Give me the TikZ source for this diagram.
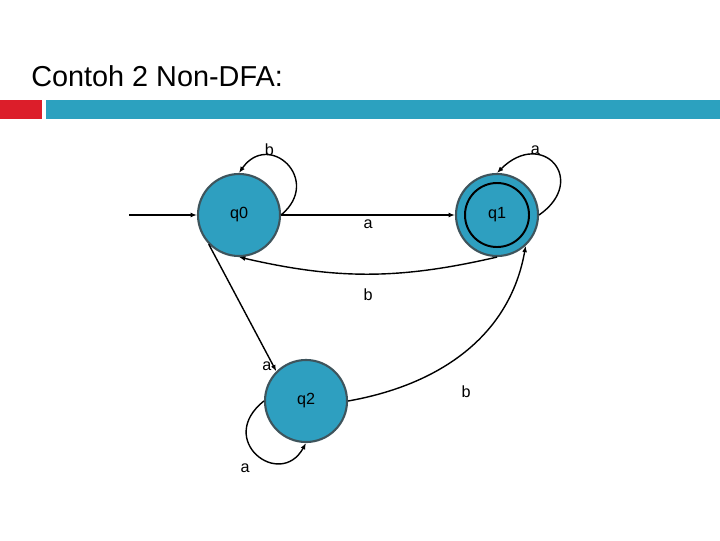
\documentclass[tikz,border=0pt]{standalone}
\usepackage{fontspec}
\setmainfont{Liberation Sans}
\usepackage{xcolor}
\usetikzlibrary{arrows.meta}
\definecolor{barteal}{HTML}{2CA1BF}
\definecolor{barred}{HTML}{DC1E2A}
\definecolor{statefill}{HTML}{2E9FC0}
\definecolor{stateline}{HTML}{3E545C}

\begin{document}
\begin{tikzpicture}[x=0.025cm, y=-0.025cm,
  statenode/.style={
    circle, draw=stateline, line width=1.5pt, fill=statefill,
    minimum size=2.05cm, inner sep=0pt, font=\fontsize{11.5}{13}\selectfont
  },
  accring/.style={draw=black, line width=1.4pt},
  arrow/.style={-{Latex[length=4.5pt, width=3.5pt]}, line width=1pt},
  edgelabel/.style={font=\fontsize{11.5}{13}\selectfont, inner sep=1pt}
]

\fill[white] (0,0) rectangle (720,540);
\useasboundingbox (0,0) rectangle (720,540);

% heading and bar
\node[anchor=base west, inner sep=0pt, font=\fontsize{20.5}{24}\selectfont] (title) at (31,86) {Contoh 2 Non-DFA:};
\fill[barred] (0,100) rectangle (42,119);
\fill[barteal] (46,100) rectangle (720,119);

% states
\node[statenode] (q0) at (239,215) {q0};
\node[statenode] (q1) at (497,215) {q1};
\node[statenode] (q2) at (306,401) {q2};
\draw[accring] (q1.center) circle (0.8cm);

\coordinate (start) at (129,215);

% transitions
\draw[arrow] (start) -- (q0);
\draw[arrow] (q0.east) .. controls +(42,-35) and +(30,-43) .. node[edgelabel, pos=0.7, anchor=south, inner sep=0pt] {b} (q0.north);
\draw[arrow] (q0.east) -- node[edgelabel, below=2pt] {a} (q1.west);
\draw[arrow] (q1.east) .. controls +(50,-35) and +(45,-45) .. node[edgelabel, pos=0.7, anchor=south, inner sep=0pt] {a} (q1.north);
\draw[arrow] (q1.south) to[bend left=13] node[edgelabel, below=9pt] {b} (q0.south);
\draw[arrow] (q0.224) -- node[edgelabel, pos=0.96, left] {a} (q2.135);
\draw[arrow] (q2.west) .. controls +(-49,39) and +(-26,47) .. node[edgelabel, pos=0.45, below left=1pt, yshift=-7pt] {a} (q2.south);
\draw[arrow] (q2.east) to[out=10, in=-100] node[edgelabel, pos=0.45, below right=3pt, yshift=-15pt] {b} (q1.-47);

\end{tikzpicture}
\end{document}
